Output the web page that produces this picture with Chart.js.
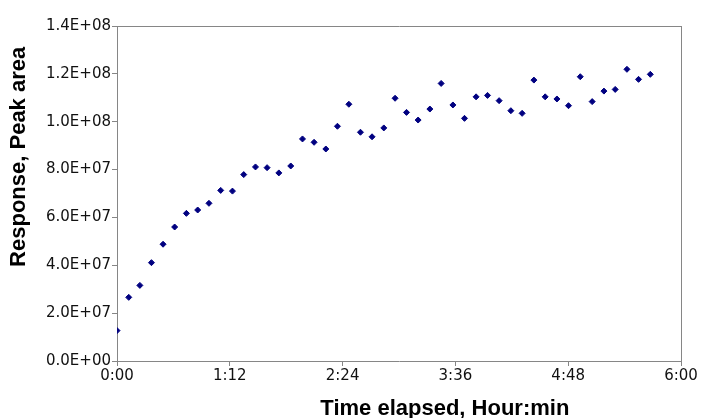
<!DOCTYPE html>
<html>
<head>
<meta charset="utf-8">
<script src="https://cdn.jsdelivr.net/npm/chart.js@4"></script>
<style>
  html, body { margin: 0; padding: 0; background: #ffffff; }
  #wrap { width: 704px; height: 418px; }
</style>
</head>
<body>
<div id="wrap"><canvas id="c" width="704" height="418"></canvas></div>
<script>
// Elapsed time in minutes
const timeMin = [0, 7.5, 14.6, 22.0, 29.4, 36.8, 44.3, 51.5, 58.7, 66.2, 73.7, 80.9, 88.4, 95.8, 103.3, 110.9, 118.4, 125.8, 133.3, 140.7, 148.0, 155.4, 162.8, 170.3, 177.5, 184.8, 192.2, 199.7, 206.9, 214.4, 221.8, 229.2, 236.5, 243.9, 251.4, 258.6, 266.1, 273.3, 280.8, 288.2, 295.7, 303.3, 310.8, 318.0, 325.5, 332.9, 340.4];
// Response, peak area
const peakArea = [1.27e7, 2.66e7, 3.16e7, 4.11e7, 4.88e7, 5.60e7, 6.17e7, 6.31e7, 6.59e7, 7.13e7, 7.10e7, 7.79e7, 8.11e7, 8.08e7, 7.86e7, 8.15e7, 9.28e7, 9.14e7, 8.86e7, 9.81e7, 10.73e7, 9.56e7, 9.37e7, 9.74e7, 10.98e7, 10.39e7, 10.07e7, 10.53e7, 11.60e7, 10.70e7, 10.14e7, 11.04e7, 11.10e7, 10.88e7, 10.46e7, 10.35e7, 11.74e7, 11.04e7, 10.95e7, 10.67e7, 11.88e7, 10.84e7, 11.28e7, 11.35e7, 12.19e7, 11.77e7, 11.98e7];

const xTickValues = [0, 72, 144, 216, 288, 360];
const xTickLabels = ['0:00', '1:12', '2:24', '3:36', '4:48', '6:00'];
const yTickLabels = ['0.0E+00', '2.0E+07', '4.0E+07', '6.0E+07', '8.0E+07', '1.0E+08', '1.2E+08', '1.4E+08'];

const xTitle = 'Time elapsed, Hour:min';
const yTitle = 'Response, Peak area';

const points = timeMin.map((t, i) => ({ x: t, y: peakArea[i] }));

const AXIS = '#868686';
const TEXT = '#111111';
const tickFont = { family: "'DejaVu Sans', sans-serif", size: 15, lineHeight: 1.2 };

new Chart(document.getElementById('c'), {
  type: 'scatter',
  data: {
    datasets: [{
      data: points,
      pointStyle: 'rectRot',
      pointRadius: 3,
      pointBorderWidth: 1,
      backgroundColor: '#000080',
      borderColor: '#000080',
      showLine: false
    }]
  },
  options: {
    responsive: false,
    animation: false,
    events: [],
    layout: { padding: { top: 26, right: 23, bottom: 0, left: 0 } },
    plugins: { legend: { display: false }, tooltip: { enabled: false } },
    scales: {
      x: {
        type: 'linear',
        position: 'bottom',
        min: 0, max: 360,
        afterFit: (s) => { s.height = 57; },
        ticks: {
          stepSize: 72,
          color: TEXT,
          font: tickFont,
          padding: 1,
          maxRotation: 0,
          autoSkip: false,
          callback: (v) => { const i = xTickValues.indexOf(v); return i >= 0 ? xTickLabels[i] : ''; }
        },
        grid: { drawOnChartArea: false, drawTicks: true, tickLength: 5, color: AXIS, lineWidth: 1 },
        border: { display: true, color: AXIS, width: 1 },
        title: {
          display: true,
          text: '\u0020'.repeat(15) + xTitle,
          color: '#000000',
          font: { family: "'Liberation Sans', Arial, sans-serif", size: 22, weight: 'bold', lineHeight: 0.8 },
          align: 'center',
          padding: { top: 0, bottom: 0 }
        }
      },
      y: {
        type: 'linear',
        position: 'left',
        min: 0, max: 1.4e8,
        afterFit: (s) => { s.width = 117; },
        ticks: {
          stepSize: 2e7,
          color: TEXT,
          font: tickFont,
          padding: 1,
          callback: (v) => { const i = Math.round(v / 2e7); return yTickLabels[i] || ''; }
        },
        grid: { drawOnChartArea: false, drawTicks: true, tickLength: 5, color: AXIS, lineWidth: 1 },
        border: { display: true, color: AXIS, width: 1 },
        title: {
          display: true,
          text: '\u0020'.repeat(12) + yTitle,
          color: '#000000',
          font: { family: "'Liberation Sans', Arial, sans-serif", size: 22, weight: 'bold', lineHeight: 1 },
          align: 'center',
          padding: { top: 8, bottom: 0 }
        }
      },
      xTop: {
        type: 'linear',
        position: 'top',
        min: 0, max: 360,
        afterFit: (s) => { s.height = 0; },
        ticks: { display: false },
        grid: { display: false, drawTicks: false },
        border: { display: true, color: AXIS, width: 1 }
      },
      yRight: {
        type: 'linear',
        position: 'right',
        min: 0, max: 1.4e8,
        afterFit: (s) => { s.width = 0; },
        ticks: { display: false },
        grid: { display: false, drawTicks: false },
        border: { display: true, color: AXIS, width: 1 }
      }
    }
  }
});
</script>
</body>
</html>
